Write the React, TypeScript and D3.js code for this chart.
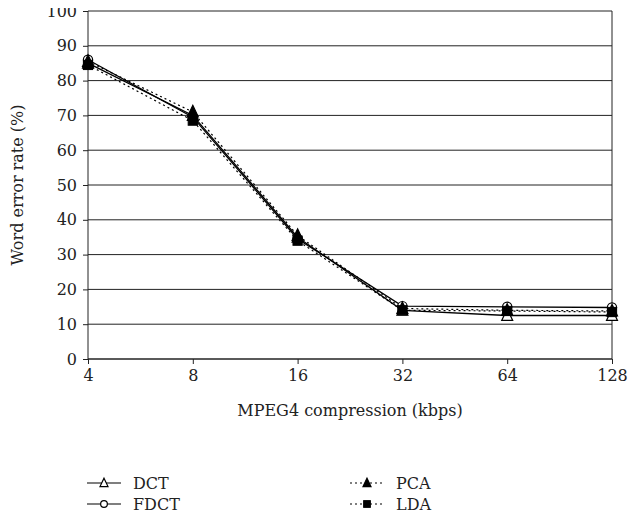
import React, { useEffect, useRef } from 'react';
import * as d3 from 'd3';

const rates = [4, 8, 16, 32, 64, 128];
const yTicks = [0, 10, 20, 30, 40, 50, 60, 70, 80, 90, 100];
const dct = [85, 70, 35, 14, 12.5, 12.5];
const fdct = [86, 69.5, 34.5, 15.2, 15, 14.8];
const pca = [85.5, 71, 35.5, 14.5, 14, 13.8];
const lda = [84.5, 68.5, 34, 14, 13.8, 13.5];

type Series = { name: string; values: number[]; dashed: boolean; marker: string; filled: boolean };

const seriesList: Series[] = [
  { name: 'DCT', values: dct, dashed: false, marker: 'triangle', filled: false },
  { name: 'FDCT', values: fdct, dashed: false, marker: 'circle', filled: false },
  { name: 'PCA', values: pca, dashed: true, marker: 'triangle', filled: true },
  { name: 'LDA', values: lda, dashed: true, marker: 'square', filled: true },
];

const width = 641;
const height = 522;
const margin = { top: 11, right: 29, bottom: 163, left: 88 };
const font = 'DejaVu Serif';
const fontSize = 16;

const drawMarker = (
  g: d3.Selection<SVGGElement, unknown, null, undefined>,
  kind: string,
  filled: boolean,
  x: number,
  y: number,
  size: number,
) => {
  const fill = filled ? '#000' : '#fff';
  if (kind === 'triangle') {
    const s = size;
    g.append('path')
      .attr('d', `M${x},${y - s * 0.6}L${x + s * 0.5},${y + s * 0.45}L${x - s * 0.5},${y + s * 0.45}Z`)
      .attr('fill', fill)
      .attr('stroke', '#000')
      .attr('stroke-width', 1.2);
  } else if (kind === 'circle') {
    g.append('circle')
      .attr('cx', x)
      .attr('cy', y)
      .attr('r', size * 0.42)
      .attr('fill', fill)
      .attr('stroke', '#000')
      .attr('stroke-width', 1.2);
  } else {
    g.append('rect')
      .attr('x', x - size * 0.42)
      .attr('y', y - size * 0.42)
      .attr('width', size * 0.84)
      .attr('height', size * 0.84)
      .attr('fill', fill)
      .attr('stroke', '#000')
      .attr('stroke-width', 1);
  }
};

export default function App() {
  const ref = useRef<SVGSVGElement>(null);

  useEffect(() => {
    if (!ref.current) return;
    const svg = d3.select(ref.current);
    svg.selectAll('*').remove();

    const x = d3
      .scaleLog()
      .base(2)
      .domain([4, 128])
      .range([margin.left, width - margin.right]);
    const y = d3
      .scaleLinear()
      .domain([0, 100])
      .range([height - margin.bottom, margin.top]);

    const grid = svg.append('g');
    grid
      .selectAll('line')
      .data(yTicks)
      .join('line')
      .attr('x1', margin.left)
      .attr('x2', width - margin.right)
      .attr('y1', (d) => y(d))
      .attr('y2', (d) => y(d))
      .attr('stroke', '#222')
      .attr('stroke-width', 1);
    grid
      .append('line')
      .attr('x1', width - margin.right)
      .attr('x2', width - margin.right)
      .attr('y1', y(100))
      .attr('y2', y(0))
      .attr('stroke', '#222');

    const yAxis = d3
      .axisLeft(y)
      .tickValues(yTicks)
      .tickSize(5)
      .tickPadding(6);
    const yg = svg
      .append('g')
      .attr('transform', `translate(${margin.left},0)`)
      .call(yAxis);
    yg.attr('font-family', font).attr('font-size', fontSize);
    yg.select('.domain').attr('stroke', '#222').attr('d', `M0,${y(100)}V${y(0)}`);
    yg.selectAll('.tick line').attr('stroke', '#222');
    yg.selectAll('.tick text').attr('fill', '#222');

    const xAxis = d3
      .axisBottom(x)
      .tickValues(rates)
      .tickFormat((d) => String(d))
      .tickSize(5)
      .tickPadding(6);
    const xg = svg
      .append('g')
      .attr('transform', `translate(0,${y(0)})`)
      .call(xAxis);
    xg.attr('font-family', font).attr('font-size', fontSize);
    xg.select('.domain').attr('stroke', '#222').attr('d', `M${x(4)},0H${x(128)}`);
    xg.selectAll('.tick line').attr('stroke', '#222');
    xg.selectAll('.tick text').attr('fill', '#222');

    svg
      .append('text')
      .attr('x', (x(4) + x(128)) / 2)
      .attr('y', 416)
      .attr('text-anchor', 'middle')
      .attr('font-family', font)
      .attr('font-size', fontSize)
      .attr('fill', '#222')
      .text('MPEG4 compression (kbps)');

    svg
      .append('text')
      .attr('transform', `translate(23,${y(50)}) rotate(-90)`)
      .attr('text-anchor', 'middle')
      .attr('font-family', font)
      .attr('font-size', fontSize)
      .attr('fill', '#222')
      .text('Word error rate (%)');

    const line = d3
      .line<number>()
      .x((_, i) => x(rates[i]))
      .y((d) => y(d));

    const plot = svg.append('g');
    seriesList.forEach((s) => {
      plot
        .append('path')
        .datum(s.values)
        .attr('d', line)
        .attr('fill', 'none')
        .attr('stroke', '#000')
        .attr('stroke-width', s.dashed ? 1.2 : 1.3)
        .attr('stroke-dasharray', s.dashed ? '2,3' : null);
    });
    seriesList.forEach((s) => {
      s.values.forEach((v, i) => drawMarker(plot, s.marker, s.filled, x(rates[i]), y(v), 11));
    });

    const legend = svg.append('g');
    const legendPos = [
      { x: 87, y: 483 },
      { x: 87, y: 504 },
      { x: 350, y: 483 },
      { x: 350, y: 504 },
    ];
    seriesList.forEach((s, i) => {
      const p = legendPos[i];
      legend
        .append('line')
        .attr('x1', p.x)
        .attr('x2', p.x + 34)
        .attr('y1', p.y)
        .attr('y2', p.y)
        .attr('stroke', '#000')
        .attr('stroke-width', 1.2)
        .attr('stroke-dasharray', s.dashed ? '2,3' : null);
      drawMarker(legend, s.marker, s.filled, p.x + 17, p.y, 8);
      legend
        .append('text')
        .attr('x', p.x + 46)
        .attr('y', p.y)
        .attr('dy', '0.35em')
        .attr('font-family', font)
        .attr('font-size', fontSize)
        .attr('fill', '#222')
        .text(s.name);
    });
  }, []);

  return <svg ref={ref} width={width} height={height} style={{ display: 'block', margin: -8 }} />;
}
